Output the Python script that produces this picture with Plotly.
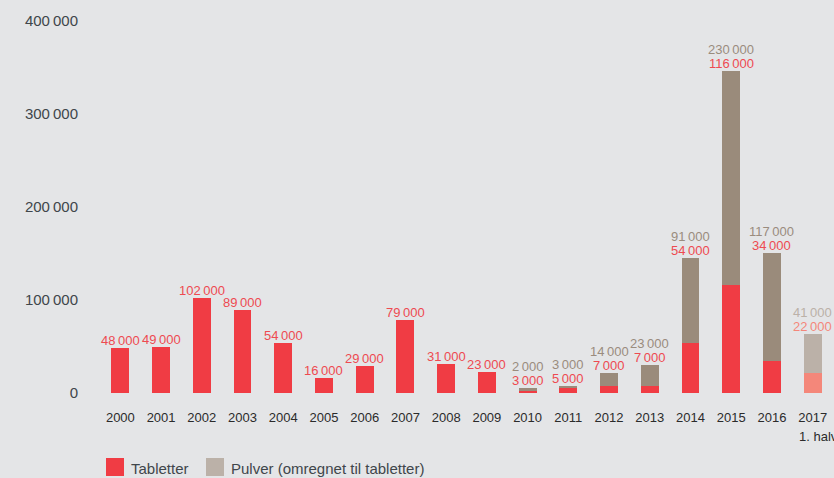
import plotly.graph_objects as go

years = ["2000", "2001", "2002", "2003", "2004", "2005", "2006", "2007", "2008",
         "2009", "2010", "2011", "2012", "2013", "2014", "2015", "2016", "2017"]
tabletter = [48000, 49000, 102000, 89000, 54000, 16000, 29000, 79000, 31000,
             23000, 3000, 5000, 7000, 7000, 54000, 116000, 34000, 22000]
pulver = [None, None, None, None, None, None, None, None, None,
          None, 2000, 3000, 14000, 23000, 91000, 230000, 117000, 41000]
y_ticks = [0, 100000, 200000, 300000, 400000]

RED = "#F03C44"
RED_LIGHT = "#F4877A"
BROWN = "#9A8B7B"
BROWN_LIGHT = "#BBB1A8"
RED_TXT = "#EE4A51"
BROWN_TXT = "#9A8C7E"
BG = "#E4E5E7"
FONT = "Liberation Sans, Arial, sans-serif"

def fmt(v):
    return f"{v:,}".replace(",", "\u2009")

n = len(years)
idx = list(range(n))
tab_colors = [RED] * (n - 1) + [RED_LIGHT]
pul_colors = [BROWN] * (n - 1) + [BROWN_LIGHT]

fig = go.Figure()
fig.add_trace(go.Bar(x=idx, y=tabletter, marker_color=tab_colors,
                     marker_line_width=0, name="Tabletter", showlegend=False,
                     hoverinfo="skip"))
fig.add_trace(go.Bar(x=idx, y=[p if p is not None else 0 for p in pulver],
                     marker_color=pul_colors, marker_line_width=0,
                     name="Pulver (omregnet til tabletter)", showlegend=False,
                     hoverinfo="skip"))

annotations = []
for i in idx:
    t = tabletter[i]
    p = pulver[i]
    total = t + (p or 0)
    last = i == n - 1
    annotations.append(dict(x=i, y=total, text=fmt(t), showarrow=False,
                            xanchor="center", yanchor="bottom", yshift=-2,
                            font=dict(family=FONT, size=13,
                                      color=RED_LIGHT if last else RED_TXT)))
    if p is not None:
        annotations.append(dict(x=i, y=total, text=fmt(p), showarrow=False,
                                xanchor="center", yanchor="bottom", yshift=12,
                                font=dict(family=FONT, size=13,
                                          color=BROWN_LIGHT if last else BROWN_TXT)))

# "1. halvår" under 2017
annotations.append(dict(x=n - 1, y=0, text="1. halvår", showarrow=False,
                        xanchor="left", yanchor="top", xshift=-16, yshift=-34,
                        font=dict(family=FONT, size=13, color="#2B2B2B")))

# legend drawn manually
PW, PH = 733, 372
shapes = [
    dict(type="rect", xref="paper", yref="paper",
         x0=(106 - 100) / PW, x1=(124 - 100) / PW,
         y0=-(458 - 393) / PH, y1=-(476 - 393) / PH,
         fillcolor=RED, line_width=0, layer="above"),
    dict(type="rect", xref="paper", yref="paper",
         x0=(206 - 100) / PW, x1=(224 - 100) / PW,
         y0=-(458 - 393) / PH, y1=-(476 - 393) / PH,
         fillcolor=BROWN_LIGHT, line_width=0, layer="above"),
]
annotations.append(dict(xref="paper", yref="paper", x=(129 - 100) / PW,
                        y=-(468 - 393) / PH, text="Tabletter", showarrow=False,
                        xanchor="left", yanchor="middle",
                        font=dict(family=FONT, size=15, color="#40464B")))
annotations.append(dict(xref="paper", yref="paper", x=(229 - 100) / PW,
                        y=-(468 - 393) / PH, text="Pulver (omregnet til tabletter)",
                        showarrow=False, xanchor="left", yanchor="middle",
                        font=dict(family=FONT, size=15, color="#40464B")))

fig.update_layout(
    width=834, height=478,
    margin=dict(l=100, r=1, t=21, b=85),
    paper_bgcolor=BG, plot_bgcolor=BG,
    barmode="stack", bargap=0.56,
    showlegend=False,
    annotations=annotations,
    shapes=shapes,
    font=dict(family=FONT),
)
fig.update_xaxes(range=[-0.5, n - 0.5], tickmode="array", tickvals=idx,
                 ticktext=years, showgrid=False, zeroline=False, showline=False,
                 ticks="", ticklabelstandoff=15,
                 tickfont=dict(family=FONT, size=13, color="#2B2B2B"))
fig.update_yaxes(range=[0, 400000], tickvals=y_ticks,
                 ticktext=[fmt(v) for v in y_ticks],
                 showgrid=False, zeroline=False, showline=False, ticks="",
                 ticklabelstandoff=21,
                 tickfont=dict(family=FONT, size=15, color="#40464B"))

fig.write_html("out.html", config={"displayModeBar": False},
               post_script="document.body.style.margin='0';document.body.style.overflow='hidden';")
